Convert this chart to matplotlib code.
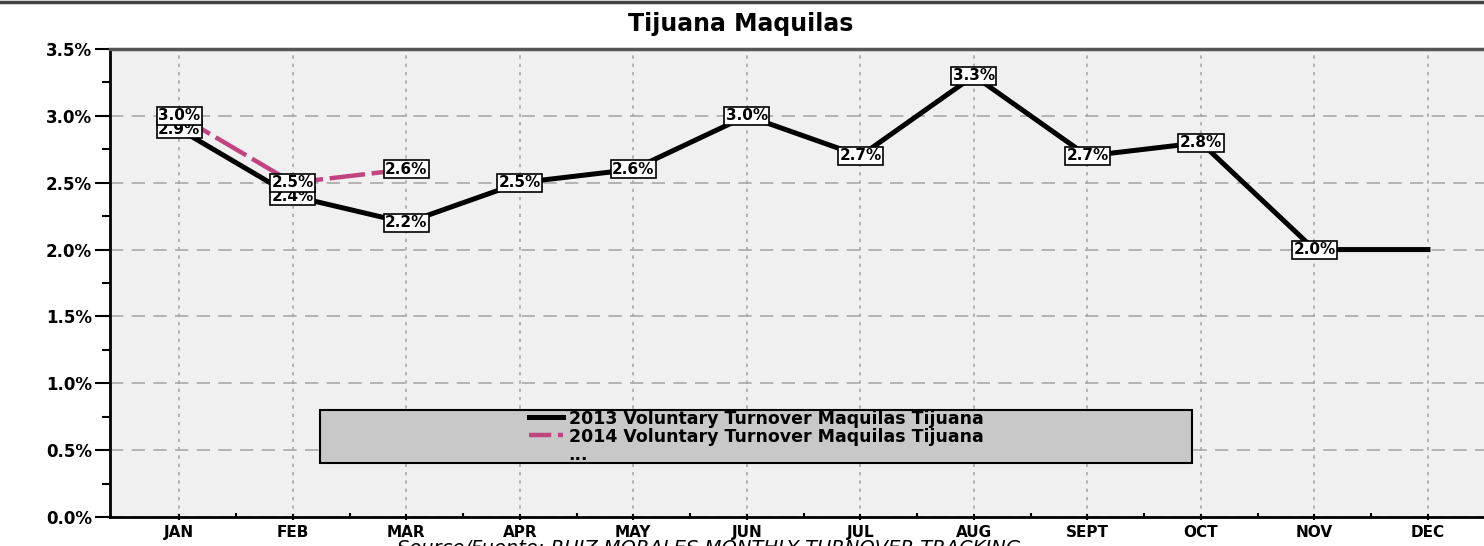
import numpy as np
import matplotlib
matplotlib.use("Agg")
import matplotlib.pyplot as plt
from matplotlib.lines import Line2D
from matplotlib.patches import Rectangle

months = ["JAN", "FEB", "MAR", "APR", "MAY", "JUN", "JUL", "AUG", "SEPT", "OCT", "NOV", "DEC"]
turnover_2013 = [2.9, 2.4, 2.2, 2.5, 2.6, 3.0, 2.7, 3.3, 2.7, 2.8, 2.0, 2.0]
labels_2013 = ["2.9%", "2.4%", "2.2%", "2.5%", "2.6%", "3.0%", "2.7%", "3.3%", "2.7%", "2.8%", "2.0%", None]
turnover_2014 = [3.0, 2.5, 2.6]
labels_2014 = ["3.0%", "2.5%", "2.6%"]
yticks = [0.0, 0.5, 1.0, 1.5, 2.0, 2.5, 3.0, 3.5]

plt.rcParams['font.family'] = ['DejaVu Sans']

W, H = 1484, 546
fig = plt.figure(figsize=(W / 100, H / 100), dpi=100)
ax = fig.add_axes([110 / W, (H - 517) / H, 1520 / W - 110 / W, (517 - 49) / H])
ax.set_facecolor("#f0f0f0")

x = np.arange(len(months))
ax.plot(x, turnover_2013, color="black", lw=3.6, zorder=3)
x14 = np.arange(len(turnover_2014))
ax.plot(x14, turnover_2014, color="#c2447e", lw=3.2, ls=(0, (8, 1.5)), zorder=4)

box = dict(boxstyle="square,pad=0.1", fc="white", ec="black", lw=1.2)
for xi, v, lab in zip(x, turnover_2013, labels_2013):
    if lab:
        ax.text(xi, v, lab, ha="center", va="center", fontsize=11, fontweight="bold",
                bbox=box, zorder=5)
for xi, v, lab in zip(x14, turnover_2014, labels_2014):
    ax.text(xi, v, lab, ha="center", va="center", fontsize=11, fontweight="bold",
            bbox=box, zorder=5)

# x runs past the right edge of the picture like the original
ax.set_xlim(-0.61, 11 + (1520 - 1428) / 113.5)
ax.set_ylim(0, 3.5)
ax.set_xticks(x)
ax.set_xticklabels(months, fontsize=11, fontweight="bold")
ax.set_xticks(x[:-1] + 0.5, minor=True)
ax.set_yticks(yticks)
ax.set_yticklabels([f"{v:.1f}%" for v in yticks], fontsize=12, fontweight="bold")
ax.set_yticks(np.arange(0.25, 3.5, 0.5), minor=True)

ax.tick_params(axis="y", which="major", length=11, width=1.5, direction="out", pad=2)
ax.tick_params(axis="y", which="minor", length=6, width=1.5, direction="out")
ax.tick_params(axis="x", which="major", length=5, width=1.5, direction="inout", pad=3)
ax.tick_params(axis="x", which="minor", length=3, width=1.5, direction="in")

ax.grid(axis="x", which="major", color="#a8a8a8", ls=(0, (2, 3)), lw=1.2)
ax.grid(axis="y", which="major", color="#a8a8a8", ls=(0, (8, 5)), lw=1.2)
ax.set_axisbelow(True)

for s in ["left", "bottom"]:
    ax.spines[s].set_linewidth(2)
    ax.spines[s].set_color("black")
ax.spines["top"].set_linewidth(2.5)
ax.spines["top"].set_color("#555555")
ax.spines["right"].set_visible(False)

# legend: grey box drawn separately, entries centred in it
lx0, ly0, lw_, lh_ = 320 / W, (H - 463) / H, 872 / W, 53 / H
fig.add_artist(Rectangle((lx0, ly0), lw_, lh_, transform=fig.transFigure,
                         fc="#c8c8c8", ec="black", lw=1.5, zorder=6))
handles = [Line2D([], [], color="black", lw=3.6),
           Line2D([], [], color="#c2447e", lw=3.2, ls=(0, (5, 1.5))),
           Line2D([], [], color="none")]
leg = fig.legend(handles, ["2013 Voluntary Turnover Maquilas Tijuana",
                           "2014 Voluntary Turnover Maquilas Tijuana", "..."],
                 loc="center", bbox_to_anchor=(lx0 + lw_ / 2, ly0 + lh_ / 2),
                 prop=dict(size=12.5, weight="bold"), frameon=False,
                 handlelength=2.0, handletextpad=0.3, borderpad=0, labelspacing=0.0,
                 borderaxespad=0)
leg.set_zorder(7)

fig.text(741 / W, 1 - 24 / H, "Tijuana Maquilas", ha="center", va="center",
         fontsize=17, fontweight="bold")
fig.text(709 / W, (H - 554) / H, "Source/Fuente: RUIZ-MORALES MONTHLY TURNOVER TRACKING",
         ha="center", va="baseline", fontsize=14, style="italic")
fig.add_artist(Line2D([0, 1], [1 - 1.5 / H, 1 - 1.5 / H], color="#444444", lw=2.5))

fig.savefig("out.png", dpi=100)
